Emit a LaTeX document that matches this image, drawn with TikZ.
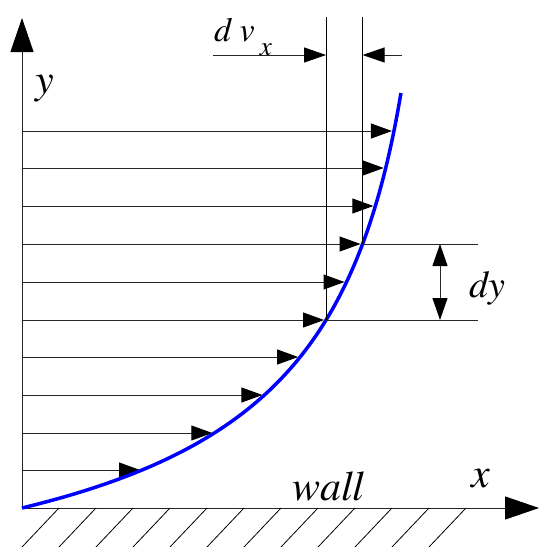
\documentclass[tikz,border=0pt]{standalone}
\usepackage[T1]{fontenc}
\usepackage{mathptmx}
\usetikzlibrary{arrows.meta}
\begin{document}
\begin{tikzpicture}[x=1pt,y=-1pt,
  thinline/.style={line width=1pt,draw=black!85},
  vline/.style={line width=1pt,draw=black},
  velarrow/.style={thinline,-{Triangle[length=21pt,width=15pt,fill=black,color=black]}},
  axisarrow/.style={thinline,-{Triangle[length=34pt,width=23pt,fill=black,color=black]}},
  dimarrow/.style={thinline,-{Triangle[length=22pt,width=15pt,fill=black,color=black]}},
  hatch/.style={line width=0.8pt,draw=black},
  profile/.style={line width=3.5pt,draw=blue},
  lbl/.style={inner sep=0pt,anchor=base west,font=\itshape\fontsize{42}{42}\selectfont}]
\useasboundingbox (0,0) rectangle (539,547);
% origin and axes
\coordinate (O) at (22,508);
\coordinate (ytip) at (22,18);
\coordinate (xtip) at (539,508);
\draw[axisarrow] (O) -- (ytip);
\draw[axisarrow] (O) -- (xtip);
% hatching
\foreach \i in {0,...,11}{
  \draw[hatch] (59+37*\i,508) -- (22+37*\i,547);
}
% velocity profile points (on the curve v(h)=524.4h/(h+125)-0.058h)
\foreach \n/\py in {1/470,2/433,3/395,4/357,5/320,6/282,7/244,8/206,9/168,10/131}{
  \pgfmathsetmacro{\h}{508-\py}
  \pgfmathsetmacro{\vx}{22+524.4*(\h/(\h+125))-0.058*\h}
  \coordinate (c\n) at (\vx,\py);
  \coordinate (p\n) at (\vx-2,\py);
  \coordinate (a\n) at (22,\py);
}
% velocity arrows
\foreach \n in {1,...,10}{
  \draw[velarrow] (a\n) -- (p\n);
}
% profile curve
\draw[profile] plot[domain=0:415,samples=120,variable=\h] ({22+524.4*(\h/(\h+125))-0.058*\h},{508-\h});
% dy construction
\coordinate (e5) at (478,320);
\coordinate (e7) at (478,244);
\draw[thinline] (c5) -- (e5);
\draw[thinline] (c7) -- (e7);
\coordinate (dyA) at (440,244);
\coordinate (dyB) at (440,320);
\coordinate (dyM) at (440,282);
\draw[dimarrow] (dyM) -- (dyA);
\draw[dimarrow] (dyM) -- (dyB);
% dvx construction
\coordinate (v5) at (c5 |- 0,17);
\coordinate (v7) at (c7 |- 0,17);
\draw[vline] (c5) -- (v5);
\draw[vline] (c7) -- (v7);
\coordinate (dvL) at (213,55);
\coordinate (dvLt) at (c5 |- 0,55);
\coordinate (dvR) at (402,55);
\coordinate (dvRt) at (c7 |- 0,55);
\draw[dimarrow] (dvL) -- (dvLt);
\draw[dimarrow] (dvR) -- (dvRt);
% labels
\node[lbl] (ylab) at (35,93) {y};
\node[lbl] (xlab) at (471,487) {x};
\node[lbl] (wall) at (292,500) {wall};
\node[lbl,font=\itshape\fontsize{38}{38}\selectfont] (dylab) at (469,297) {dy};
\node[lbl,font=\itshape\fontsize{34}{34}\selectfont] (dvlab) at (214,41) {d v\hspace{5pt}\raisebox{-14pt}{\fontsize{27}{27}\selectfont x}};
\end{tikzpicture}
\end{document}
